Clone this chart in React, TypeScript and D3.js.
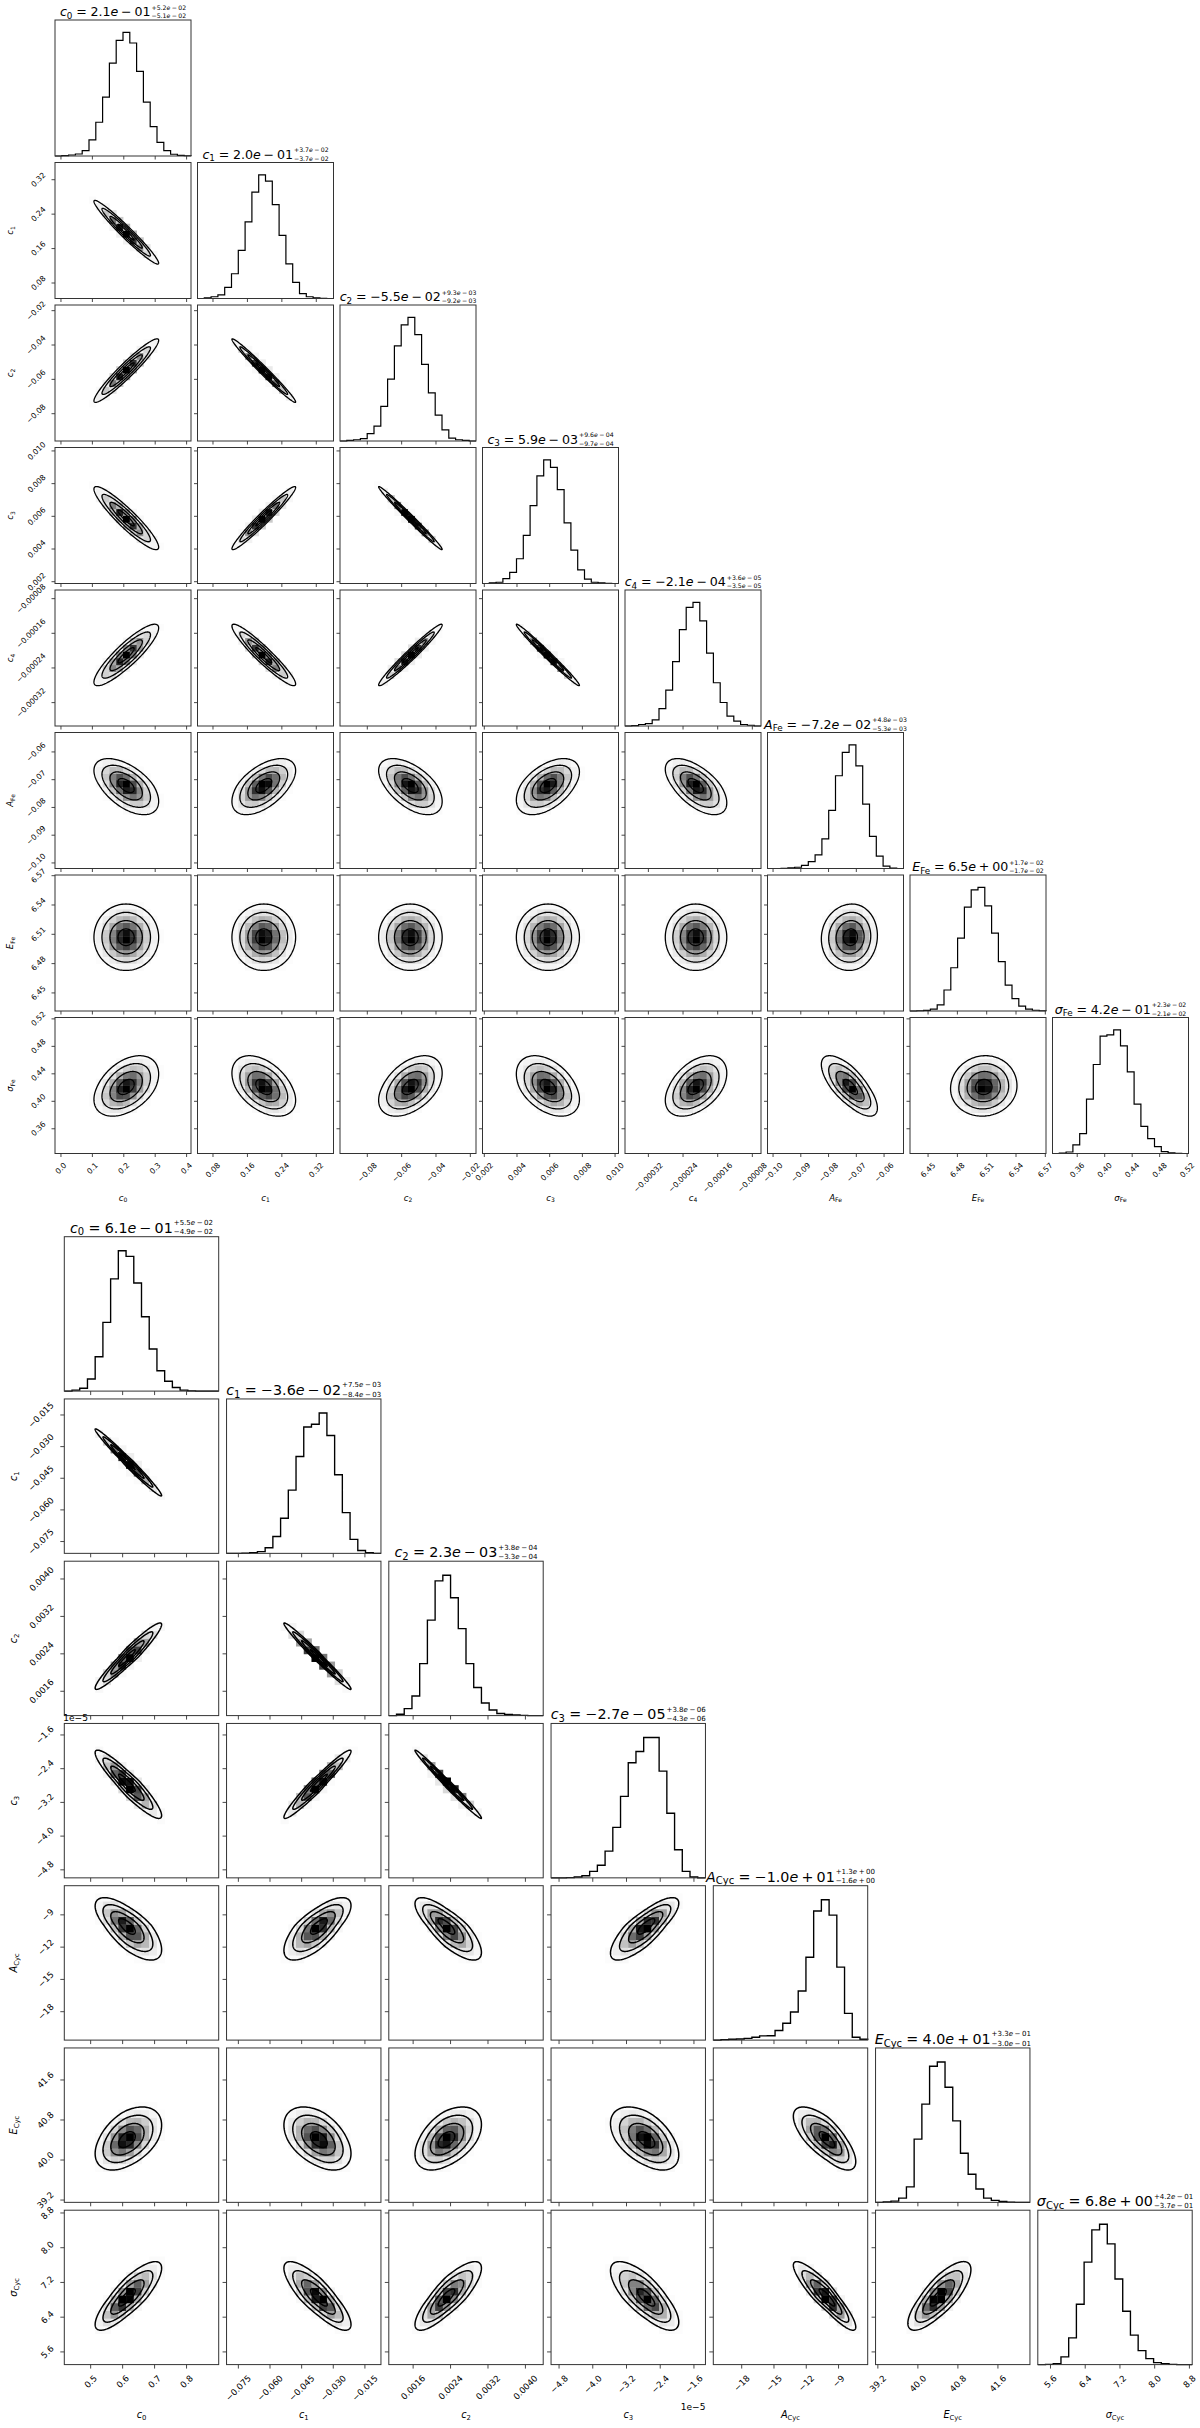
import React from 'react';
import * as d3 from 'd3';

// ======================= DATA: Fe corner plot =======================
const feLabelBase = ['c', 'c', 'c', 'c', 'c', 'A', 'E', 'σ'];
const feLabelSub = ['0', '1', '2', '3', '4', 'Fe', 'Fe', 'Fe'];
const feTitleMain = ['2.1e−01', '2.0e−01', '−5.5e−02', '5.9e−03', '−2.1e−04', '−7.2e−02', '6.5e+00', '4.2e−01'];
const feTitlePlus = ['5.2e−02', '3.7e−02', '9.3e−03', '9.6e−04', '3.6e−05', '4.8e−03', '1.7e−02', '2.3e−02'];
const feTitleMinus = ['5.1e−02', '3.7e−02', '9.2e−03', '9.7e−04', '3.5e−05', '5.3e−03', '1.7e−02', '2.1e−02'];
const feDomains: [number, number][] = [
  [-0.019, 0.414], [0.044, 0.36], [-0.0959, -0.0167], [0.00189, 0.01021],
  [-0.000374, -0.00006], [-0.102, -0.053], [6.4315, 6.5707], [0.324, 0.522],
];
const feTicks = [
  [0, 0.1, 0.2, 0.3, 0.4], [0.08, 0.16, 0.24, 0.32], [-0.08, -0.06, -0.04, -0.02],
  [0.002, 0.004, 0.006, 0.008, 0.01], [-0.00032, -0.00024, -0.00016, -0.00008],
  [-0.1, -0.09, -0.08, -0.07, -0.06], [6.45, 6.48, 6.51, 6.54, 6.57], [0.36, 0.4, 0.44, 0.48, 0.52],
];
const feTickLabels = [
  ['0.0', '0.1', '0.2', '0.3', '0.4'], ['0.08', '0.16', '0.24', '0.32'], ['−0.08', '−0.06', '−0.04', '−0.02'],
  ['0.002', '0.004', '0.006', '0.008', '0.010'], ['−0.00032', '−0.00024', '−0.00016', '−0.00008'],
  ['−0.10', '−0.09', '−0.08', '−0.07', '−0.06'], ['6.45', '6.48', '6.51', '6.54', '6.57'], ['0.36', '0.40', '0.44', '0.48', '0.52'],
];
const feHist = [
  [0, 0.003, 0.008, 0.016, 0.043, 0.13, 0.273, 0.476, 0.751, 0.935, 1.0, 0.914, 0.684, 0.435, 0.238, 0.111, 0.043, 0.014, 0.005, 0.002],
  [0, 0.005, 0.014, 0.03, 0.09, 0.2, 0.39, 0.62, 0.86, 1.0, 0.95, 0.76, 0.51, 0.28, 0.13, 0.04, 0.014, 0.005, 0.002, 0],
  [0, 0.005, 0.01, 0.02, 0.06, 0.12, 0.28, 0.5, 0.77, 0.94, 1.0, 0.86, 0.62, 0.39, 0.21, 0.09, 0.024, 0.01, 0.005, 0],
  [0, 0.005, 0.01, 0.04, 0.09, 0.2, 0.39, 0.63, 0.87, 1.0, 0.94, 0.76, 0.49, 0.27, 0.11, 0.035, 0.01, 0.005, 0.002, 0],
  [0, 0.003, 0.012, 0.02, 0.05, 0.14, 0.29, 0.52, 0.78, 0.96, 1.0, 0.85, 0.59, 0.35, 0.19, 0.08, 0.04, 0.012, 0.006, 0],
  [0, 0, 0.002, 0.005, 0.01, 0.025, 0.056, 0.11, 0.24, 0.47, 0.75, 0.94, 1.0, 0.83, 0.52, 0.26, 0.1, 0.02, 0.003, 0],
  [0, 0.002, 0.005, 0.015, 0.05, 0.17, 0.35, 0.59, 0.84, 0.98, 1.0, 0.85, 0.63, 0.4, 0.21, 0.1, 0.04, 0.015, 0.006, 0.002],
  [0, 0.003, 0.012, 0.07, 0.16, 0.44, 0.72, 0.95, 0.96, 1.0, 0.87, 0.66, 0.4, 0.22, 0.12, 0.056, 0.015, 0.006, 0.002, 0],
];
const feCenter = [0.207, 0.198, -0.055, 0.0059, -0.000211, -0.072, 6.507, 0.4204];
const feSigPlus = [0.052, 0.037, 0.0093, 0.00096, 0.000036, 0.0048, 0.017, 0.023];
const feSigMinus = [0.051, 0.037, 0.0092, 0.00097, 0.000035, 0.0053, 0.017, 0.021];
const feCorr = [
  [],
  [-0.97],
  [0.95, -0.985],
  [-0.92, 0.97, -0.99],
  [0.88, -0.94, 0.975, -0.988],
  [-0.55, 0.55, -0.55, 0.5, -0.6],
  [0.0, 0.0, 0.0, 0.0, 0.0, 0.05],
  [0.42, -0.45, 0.45, -0.42, 0.45, -0.72, 0.05],
];

// ======================= DATA: Cyc corner plot =======================
const cycLabelBase = ['c', 'c', 'c', 'c', 'A', 'E', 'σ'];
const cycLabelSub = ['0', '1', '2', '3', 'Cyc', 'Cyc', 'Cyc'];
const cycTitleMain = ['6.1e−01', '−3.6e−02', '2.3e−03', '−2.7e−05', '−1.0e+01', '4.0e+01', '6.8e+00'];
const cycTitlePlus = ['5.5e−02', '7.5e−03', '3.8e−04', '3.8e−06', '1.3e+00', '3.3e−01', '4.2e−01'];
const cycTitleMinus = ['4.9e−02', '8.4e−03', '3.3e−04', '4.3e−06', '1.6e+00', '3.0e−01', '3.7e−01'];
const cycDomains: [number, number][] = [
  [0.4175, 0.9006], [-0.0806, -0.0074], [0.00108, 0.00438], [-4.99e-5, -1.327e-5],
  [-20.64, -6.29], [39.154, 42.24], [5.308, 8.864],
];
const cycTicks = [
  [0.5, 0.6, 0.7, 0.8], [-0.075, -0.06, -0.045, -0.03, -0.015], [0.0016, 0.0024, 0.0032, 0.004],
  [-4.8e-5, -4.0e-5, -3.2e-5, -2.4e-5, -1.6e-5], [-18, -15, -12, -9], [39.2, 40.0, 40.8, 41.6], [5.6, 6.4, 7.2, 8.0, 8.8],
];
const cycTickLabels = [
  ['0.5', '0.6', '0.7', '0.8'], ['−0.075', '−0.060', '−0.045', '−0.030', '−0.015'], ['0.0016', '0.0024', '0.0032', '0.0040'],
  ['−4.8', '−4.0', '−3.2', '−2.4', '−1.6'], ['−18', '−15', '−12', '−9'], ['39.2', '40.0', '40.8', '41.6'], ['5.6', '6.4', '7.2', '8.0', '8.8'],
];
const cycHist = [
  [0, 0.007, 0.02, 0.086, 0.245, 0.49, 0.8, 1.0, 0.96, 0.77, 0.53, 0.3, 0.145, 0.07, 0.026, 0.007, 0.002, 0, 0, 0],
  [0, 0, 0.002, 0.005, 0.012, 0.04, 0.12, 0.25, 0.45, 0.69, 0.9, 0.92, 1.0, 0.84, 0.56, 0.29, 0.1, 0.02, 0.005, 0],
  [0, 0.01, 0.05, 0.14, 0.37, 0.68, 0.96, 1.0, 0.84, 0.62, 0.37, 0.2, 0.09, 0.04, 0.015, 0.008, 0.005, 0.002, 0, 0],
  [0, 0, 0.002, 0.006, 0.015, 0.046, 0.09, 0.19, 0.36, 0.58, 0.82, 0.9, 1.0, 1.0, 0.76, 0.46, 0.2, 0.046, 0.006, 0],
  [0, 0.003, 0.006, 0.008, 0.012, 0.02, 0.03, 0.031, 0.068, 0.12, 0.2, 0.35, 0.59, 0.92, 1.0, 0.89, 0.52, 0.19, 0.02, 0.006],
  [0, 0.003, 0.009, 0.03, 0.11, 0.45, 0.7, 0.97, 1.0, 0.82, 0.58, 0.35, 0.2, 0.095, 0.03, 0.014, 0.006, 0.002, 0, 0],
  [0, 0.002, 0.007, 0.055, 0.19, 0.43, 0.73, 0.96, 1.0, 0.86, 0.61, 0.38, 0.21, 0.1, 0.043, 0.014, 0.007, 0.002, 0, 0],
];
const cycCenter = [0.612, -0.0366, 0.0023, -2.72e-5, -10.0, 40.4, 6.84];
const cycSigPlus = [0.055, 0.0075, 0.00038, 0.38e-5, 1.3, 0.33, 0.42];
const cycSigMinus = [0.049, 0.0084, 0.00033, 0.43e-5, 1.6, 0.3, 0.37];
const cycCorr = [
  [],
  [-0.985],
  [0.955, -0.985],
  [-0.92, 0.965, -0.99],
  [-0.7, 0.72, -0.78, 0.8],
  [0.45, -0.45, 0.47, -0.5, -0.72],
  [0.82, -0.82, 0.82, -0.75, -0.9, 0.78],
];
const cycOffsetIndex = 3;
const cycOffsetText = '1e−5';

// ======================= layout =======================
const FONT = 'DejaVu Sans';
const feLayout = { x0: 55, y0: 20, size: 136, pitch: 142.5, s: 1 };
const cycLayout = { x0: 64.3, y0: 1236.7, size: 154.4, pitch: 162.25, s: 1.135 };
const TICK_FONT = 7.6;
const LABEL_FONT = 8.6;
const TITLE_FONT = 12.6;
const SCRIPT_FONT = 6.2;
const NBINS = 20;
const LEVELS = [0.5, 1, 1.5, 2];

type Seg = { t: string; it?: boolean; sub?: boolean; gap?: number };

let _ctx: CanvasRenderingContext2D | null = null;
function measure(t: string, size: number, italic = false): number {
  if (!_ctx && typeof document !== 'undefined') {
    _ctx = document.createElement('canvas').getContext('2d');
  }
  if (!_ctx) return t.length * size * 0.6;
  _ctx.font = `${italic ? 'italic ' : ''}${size}px "${FONT}"`;
  return _ctx.measureText(t).width;
}
const SUBSCALE = 0.7;
function segsWidth(segs: Seg[], size: number) {
  return segs.reduce((w, sg) => {
    const fs = sg.sub ? size * SUBSCALE : size;
    return w + (sg.gap || 0) * size + measure(sg.t, fs, !!sg.it);
  }, 0);
}

function MathText(props: { segs: Seg[]; x: number; y: number; size: number; anchor?: string; k?: string }) {
  const { segs, x, y, size } = props;
  const anchor = props.anchor || 'middle';
  const total = segsWidth(segs, size);
  let cx = anchor === 'middle' ? x - total / 2 : anchor === 'end' ? x - total : x;
  const spans = segs.map((sg, k) => {
    const fs = sg.sub ? size * SUBSCALE : size;
    cx += (sg.gap || 0) * size;
    const el = (
      <tspan key={k} x={cx} y={y + (sg.sub ? size * 0.2 : 0)} fontSize={fs} fontStyle={sg.it ? 'italic' : 'normal'}>
        {sg.t}
      </tspan>
    );
    cx += measure(sg.t, fs, !!sg.it);
    return el;
  });
  return (
    <text fontFamily={FONT} fill="#000">
      {spans}
    </text>
  );
}

function numSegs(str: string, firstGap = 0): Seg[] {
  const idx = str.indexOf('e');
  const mant = str.slice(0, idx);
  const sign = str[idx + 1];
  const exp = str.slice(idx + 2);
  return [
    { t: mant, gap: firstGap },
    { t: 'e', it: true },
    { t: sign === '+' ? '+' : '−', gap: 0.22 },
    { t: exp, gap: 0.22 },
  ];
}

function labelSegs(base: string, sub: string): Seg[] {
  return [{ t: base, it: true }, { t: sub, sub: true }];
}

type Cfg = {
  base: string[]; sub: string[]; tMain: string[]; tPlus: string[]; tMinus: string[];
  domains: [number, number][]; ticks: number[][]; tickLabels: string[][]; hist: number[][];
  center: number[]; sp: number[]; sm: number[]; corr: number[][];
  offsetIndex?: number; offsetText?: string;
};

function grayFill(g: number) {
  const v = Math.round(255 * Math.max(0, Math.min(1, g)));
  return d3.rgb(v, v, v).formatHex();
}

function Corner({ cfg, lay, id }: { cfg: Cfg; lay: typeof feLayout; id: string }) {
  const n = cfg.base.length;
  const { x0, y0, size, pitch, s } = lay;
  const tickLen = 3.5 * s;
  const tickFont = TICK_FONT * s;
  const labelFont = LABEL_FONT * s;
  const titleFont = TITLE_FONT * s;
  const scriptFont = SCRIPT_FONT * s;
  const pad = 4.5 * s;
  const els: React.ReactNode[] = [];
  const std = (v: number, k: number) => {
    const d = v - cfg.center[k];
    return d / (d > 0 ? cfg.sp[k] : cfg.sm[k]);
  };

  for (let i = 0; i < n; i++) {
    for (let j = 0; j <= i; j++) {
      const px = x0 + j * pitch;
      const py = y0 + i * pitch;
      const xs = d3.scaleLinear().domain(cfg.domains[j]).range([px, px + size]);
      const key = `${id}-${i}-${j}`;
      const parts: React.ReactNode[] = [];
      if (i === j) {
        const ys = d3.scaleLinear().domain([0, 1.1]).range([py + size, py]);
        const h = cfg.hist[i];
        const [lo, hi] = cfg.domains[i];
        const edges = d3.range(NBINS + 1).map((k) => lo + ((hi - lo) * k) / NBINS);
        const pts: [number, number][] = [[edges[0], 0]];
        h.forEach((v, k) => {
          pts.push([edges[k], v]);
          pts.push([edges[k + 1], v]);
        });
        pts.push([edges[NBINS], 0]);
        const line = d3.line<[number, number]>().x((p) => xs(p[0])).y((p) => ys(p[1]));
        parts.push(<path key="h" d={line(pts) || ''} fill="none" stroke="#000" strokeWidth={1.2 * s} />);
        // title
        const main: Seg[] = [
          ...labelSegs(cfg.base[i], cfg.sub[i]),
          { t: '=', gap: 0.3 },
          ...numSegs(cfg.tMain[i], 0.3),
        ];
        const sup: Seg[] = [{ t: '+' }, ...numSegs(cfg.tPlus[i])];
        const sb: Seg[] = [{ t: '−' }, ...numSegs(cfg.tMinus[i])];
        const mw = segsWidth(main, titleFont);
        const sw = Math.max(segsWidth(sup, scriptFont), segsWidth(sb, scriptFont));
        const total = mw + sw + 1;
        const startX = px + size / 2 - total / 2;
        const baseY = py - 3.6 * s;
        parts.push(<MathText key="t" segs={main} x={startX} y={baseY} size={titleFont} anchor="start" />);
        parts.push(<MathText key="tp" segs={sup} x={startX + mw + 1} y={baseY - 6.6 * s} size={scriptFont} anchor="start" />);
        parts.push(<MathText key="tm" segs={sb} x={startX + mw + 1} y={baseY + 1.6 * s} size={scriptFont} anchor="start" />);
      } else {
        const ys = d3.scaleLinear().domain(cfg.domains[i]).range([py + size, py]);
        const rho = cfg.corr[i][j];
        const q = Math.sqrt(1 - rho * rho);
        const dens = (xv: number, yv: number) => {
          const zx = std(xv, j);
          const zy = std(yv, i);
          const r2 = (zx * zx - 2 * rho * zx * zy + zy * zy) / (q * q);
          return Math.exp(-0.5 * r2);
        };
        const [xlo, xhi] = cfg.domains[j];
        const [ylo, yhi] = cfg.domains[i];
        const dx = (xhi - xlo) / NBINS;
        const dy = (yhi - ylo) / NBINS;
        const grid: number[][] = [];
        let mx = 0;
        const SUBN = 4;
        for (let a = 0; a < NBINS; a++) {
          grid.push([]);
          for (let b = 0; b < NBINS; b++) {
            let acc = 0;
            for (let u = 0; u < SUBN; u++)
              for (let v = 0; v < SUBN; v++)
                acc += dens(xlo + (a + (u + 0.5) / SUBN) * dx, ylo + (b + (v + 0.5) / SUBN) * dy);
            acc /= SUBN * SUBN;
            grid[a].push(acc);
            if (acc > mx) mx = acc;
          }
        }
        for (let a = 0; a < NBINS; a++) {
          for (let b = 0; b < NBINS; b++) {
            const dn = grid[a][b] / mx;
            const g = 1 - dn * dn;
            if (g > 0.99) continue;
            const xa = xs(xlo + a * dx);
            const xb = xs(xlo + (a + 1) * dx);
            const ya = ys(ylo + (b + 1) * dy);
            const yb = ys(ylo + b * dy);
            parts.push(
              <rect key={`c${a}-${b}`} x={xa} y={ya} width={xb - xa + 0.4} height={yb - ya + 0.4} fill={grayFill(g)} />
            );
          }
        }
        const lineGen = d3.line<[number, number]>().x((p) => xs(p[0])).y((p) => ys(p[1])).curve(d3.curveLinearClosed);
        LEVELS.forEach((r, li) => {
          const pts: [number, number][] = d3.range(0, 160).map((t) => {
            const th = (t / 160) * Math.PI * 2;
            const u = r * Math.cos(th);
            const v = r * Math.sin(th);
            const zx = u;
            const zy = rho * u + q * v;
            const xv = cfg.center[j] + zx * (zx > 0 ? cfg.sp[j] : cfg.sm[j]);
            const yv = cfg.center[i] + zy * (zy > 0 ? cfg.sp[i] : cfg.sm[i]);
            return [xv, yv];
          });
          parts.push(<path key={`l${li}`} d={lineGen(pts) || ''} fill="none" stroke="#000" strokeWidth={1.3 * s} />);
        });
        // left ticks
        cfg.ticks[i].forEach((tv, k) => {
          const ty = ys(tv);
          parts.push(<line key={`ly${k}`} x1={px - tickLen} x2={px} y1={ty} y2={ty} stroke="#333" strokeWidth={0.9} />);
        });
        if (j === 0) {
          cfg.ticks[i].forEach((tv, k) => {
            const ty = ys(tv);
            const lab = cfg.tickLabels[i][k];
            const L = measure(lab, tickFont);
            const box = (L + tickFont) * 0.7071;
            const cx = px - tickLen - pad - box / 2;
            parts.push(
              <text key={`yl${k}`} transform={`translate(${cx},${ty}) rotate(-45)`} textAnchor="middle" dominantBaseline="central"
                fontFamily={FONT} fontSize={tickFont} fill="#000">{lab}</text>
            );
          });
          parts.push(
            <g key="ylab" transform={`translate(${px - 0.3 * size - 1},${py + size / 2}) rotate(-90)`}>
              <MathText segs={labelSegs(cfg.base[i], cfg.sub[i])} x={0} y={0} size={labelFont} />
            </g>
          );
          if (cfg.offsetIndex === i && cfg.offsetText) {
            parts.push(
              <text key="yoff" x={px - 1} y={py - 2.5 * s} fontFamily={FONT} fontSize={tickFont * 1.05} fill="#000">{cfg.offsetText}</text>
            );
          }
        }
      }
      // bottom ticks
      cfg.ticks[j].forEach((tv, k) => {
        const tx = xs(tv);
        parts.push(<line key={`bx${k}`} x1={tx} x2={tx} y1={py + size} y2={py + size + tickLen} stroke="#333" strokeWidth={0.9} />);
      });
      if (i === n - 1) {
        cfg.ticks[j].forEach((tv, k) => {
          const tx = xs(tv);
          const lab = cfg.tickLabels[j][k];
          const L = measure(lab, tickFont);
          const box = (L + tickFont) * 0.7071;
          const cy = py + size + tickLen + pad + box / 2;
          parts.push(
            <text key={`xl${k}`} transform={`translate(${tx},${cy}) rotate(-45)`} textAnchor="middle" dominantBaseline="central"
              fontFamily={FONT} fontSize={tickFont} fill="#000">{lab}</text>
          );
        });
        parts.push(
          <MathText key="xlab" segs={labelSegs(cfg.base[j], cfg.sub[j])} x={px + size / 2} y={py + size + 0.3 * size + labelFont * 0.75} size={labelFont} />
        );
        if (cfg.offsetIndex === j && cfg.offsetText) {
          parts.push(
            <text key="xoff" x={px + size} y={py + size + 0.295 * size} textAnchor="end" fontFamily={FONT} fontSize={tickFont * 1.05} fill="#000">{cfg.offsetText}</text>
          );
        }
      }
      // frame
      parts.push(<rect key="f" x={px} y={py} width={size} height={size} fill="none" stroke="#333" strokeWidth={1} />);
      els.push(<g key={key}>{parts}</g>);
    }
  }
  return <g>{els}</g>;
}

const feCfg: Cfg = {
  base: feLabelBase, sub: feLabelSub, tMain: feTitleMain, tPlus: feTitlePlus, tMinus: feTitleMinus,
  domains: feDomains, ticks: feTicks, tickLabels: feTickLabels, hist: feHist,
  center: feCenter, sp: feSigPlus, sm: feSigMinus, corr: feCorr,
};
const cycCfg: Cfg = {
  base: cycLabelBase, sub: cycLabelSub, tMain: cycTitleMain, tPlus: cycTitlePlus, tMinus: cycTitleMinus,
  domains: cycDomains, ticks: cycTicks, tickLabels: cycTickLabels, hist: cycHist,
  center: cycCenter, sp: cycSigPlus, sm: cycSigMinus, corr: cycCorr,
  offsetIndex: cycOffsetIndex, offsetText: cycOffsetText,
};

export default function App() {
  return (
    <svg width={1200} height={2428} viewBox="0 0 1200 2428" style={{ position: 'absolute', left: 0, top: 0, background: '#fff' }}>
      <rect x={0} y={0} width={1200} height={2428} fill="#fff" />
      <Corner cfg={feCfg} lay={feLayout} id="fe" />
      <Corner cfg={cycCfg} lay={cycLayout} id="cyc" />
    </svg>
  );
}
